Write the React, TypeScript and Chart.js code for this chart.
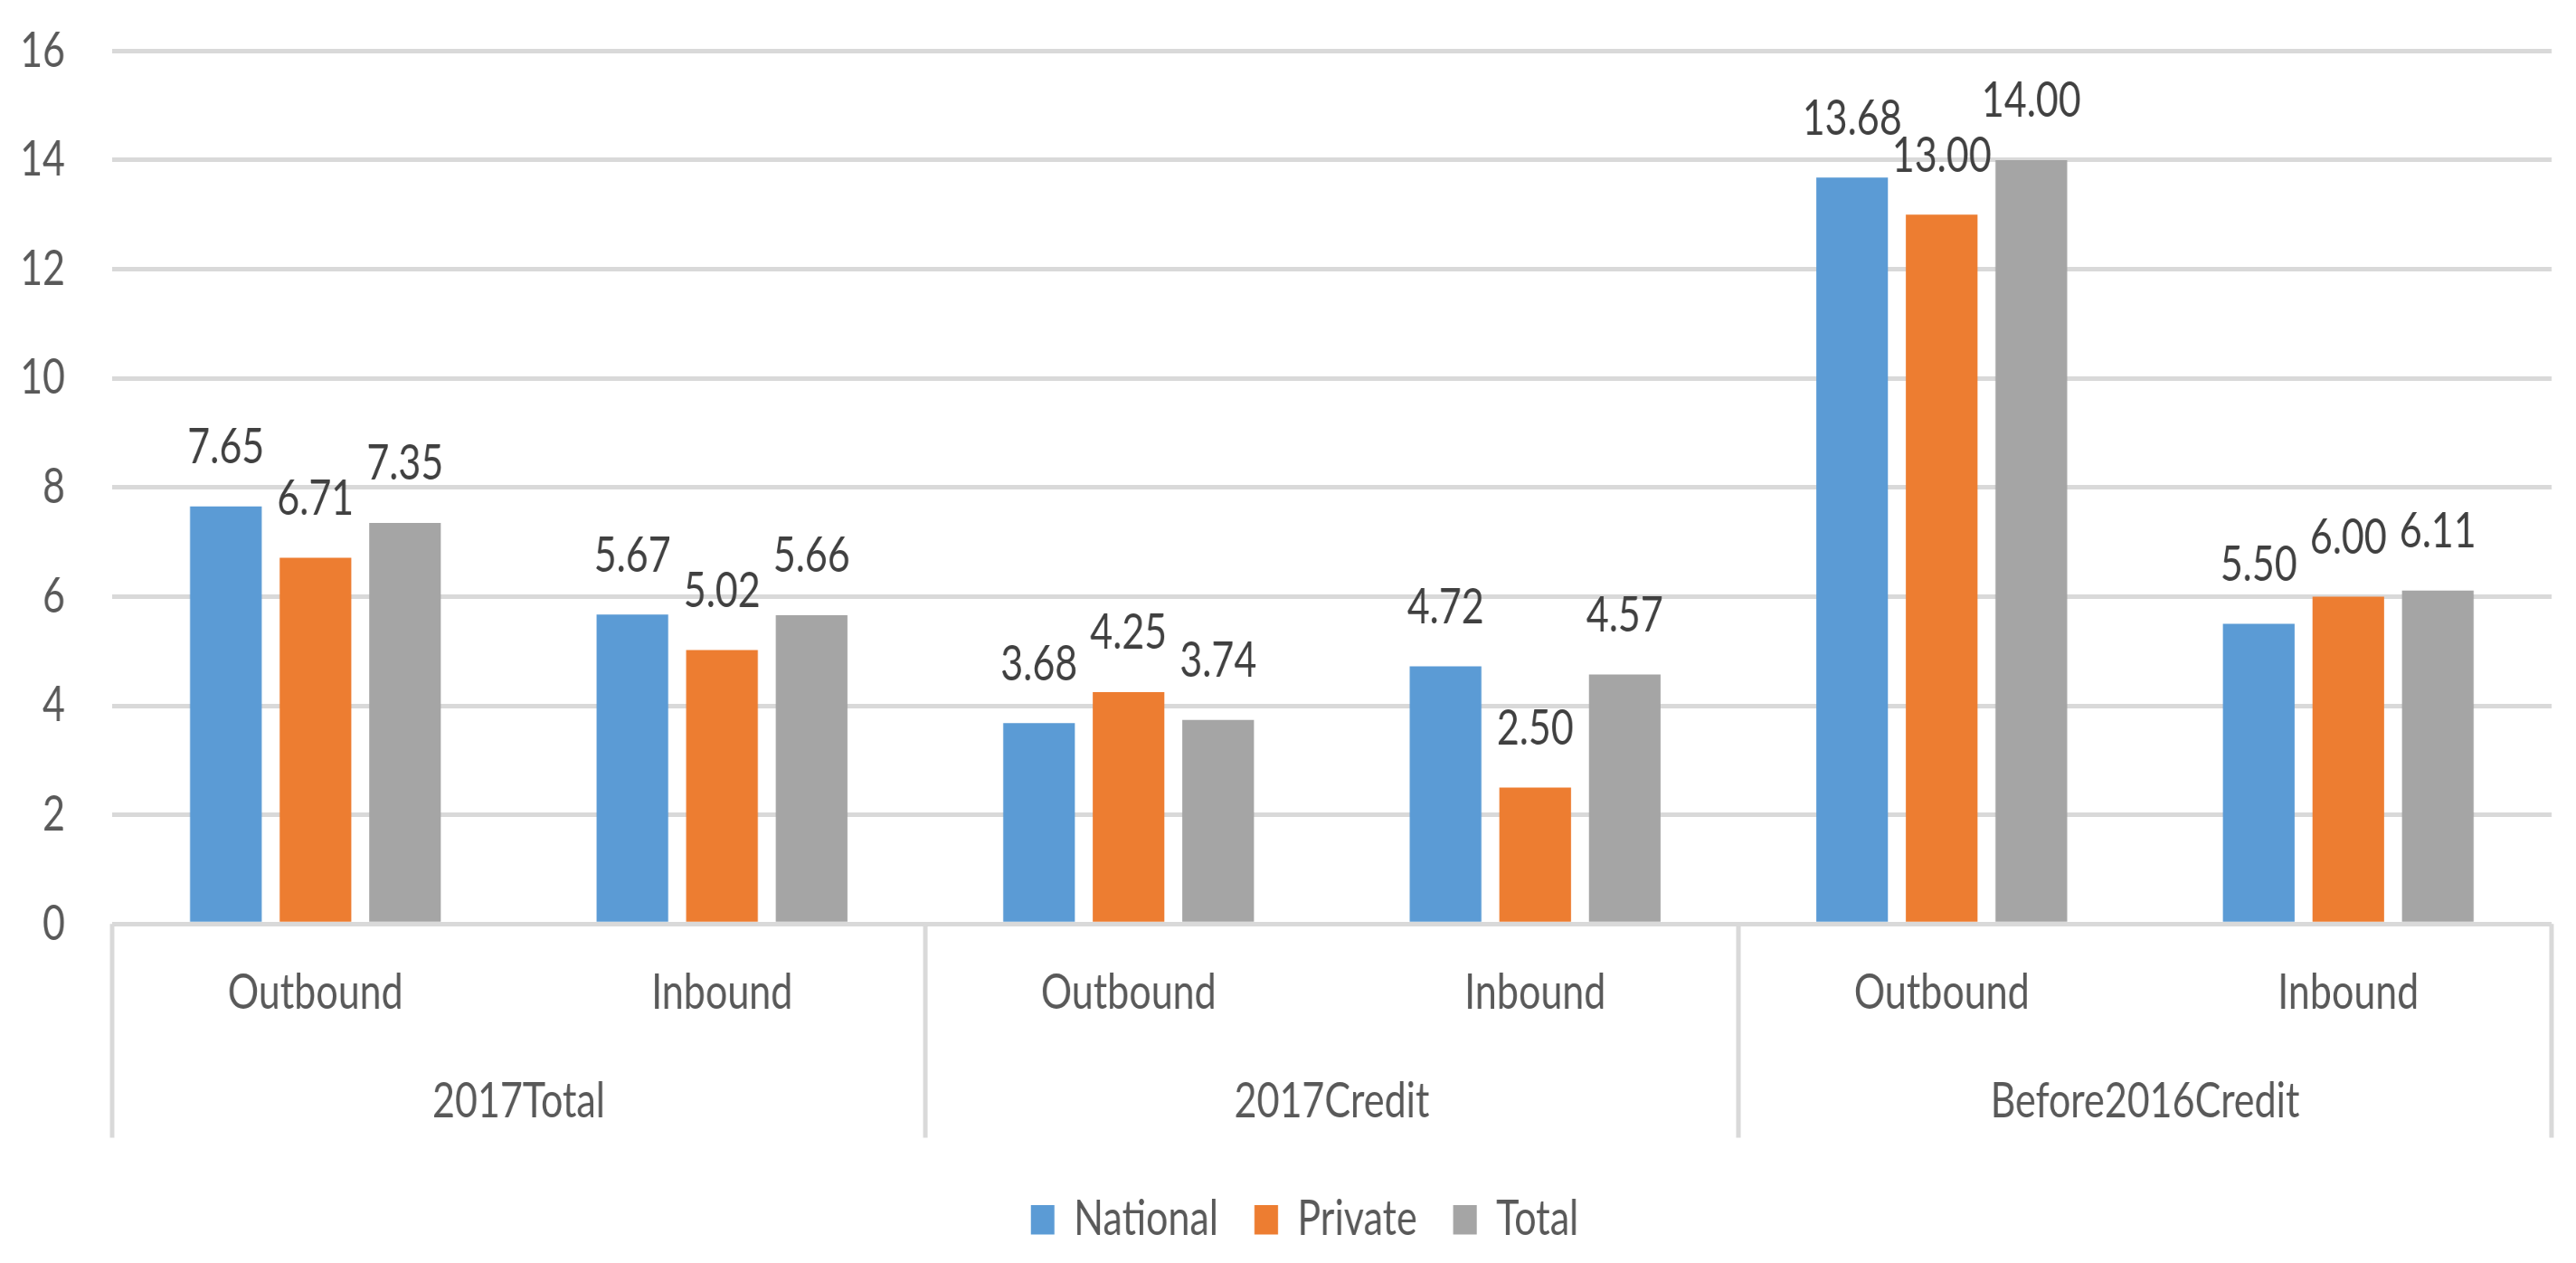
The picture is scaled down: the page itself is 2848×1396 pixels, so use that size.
import React, { useEffect, useRef } from 'react';
import { Chart, registerables } from 'chart.js';

Chart.register(...registerables);

// ---- data ----
const subCategories = ['Outbound', 'Inbound', 'Outbound', 'Inbound', 'Outbound', 'Inbound'];
const groupLabels = ['2017Total', '2017Credit', 'Before2016Credit'];
const seriesNames = ['National', 'Private', 'Total'];
const nationalValues = [7.65, 5.67, 3.68, 4.72, 13.68, 5.5];
const privateValues = [6.71, 5.02, 4.25, 2.5, 13.0, 6.0];
const totalValues = [7.35, 5.66, 3.74, 4.57, 14.0, 6.11];
const seriesColors = ['#5B9BD5', '#ED7D31', '#A5A5A5'];
const yMin = 0;
const yMax = 16;
const yStep = 2;

// ---- layout (logical canvas is stretched vertically by CSS) ----
const PAGE_W = 2848;
const PAGE_H = 1396;
const STRETCH = 1.25;
const LOGICAL_H = Math.round(PAGE_H / STRETCH);
const FONT = "Lato, 'Open Sans', sans-serif";
const FONT_SIZE = 43;
const AXIS_TEXT = '#595959';
const LABEL_TEXT = '#404040';
const GRID = '#d9d9d9';
const LEGEND_SHIFT = 32;

const legendShiftPlugin = {
  id: 'legendShift',
  afterLayout(chart: any) {
    const lg = chart.legend;
    if (lg) {
      lg.left += LEGEND_SHIFT;
      lg.right += LEGEND_SHIFT;
    }
  },
};

const axisDecorPlugin = {
  id: 'axisDecor',
  afterDraw(chart: any) {
    const { ctx, chartArea } = chart;
    const xs = chart.scales.x;
    const n = subCategories.length;
    const px = (i: number) => xs.getPixelForValue(i);
    const boundary = (i: number) => {
      if (i <= 0) return chartArea.left;
      if (i >= n) return chartArea.right;
      return (px(i - 1) + px(i)) / 2;
    };
    const lineBottom = 1006;
    ctx.save();
    // separators
    ctx.strokeStyle = GRID;
    ctx.lineWidth = 5;
    const perGroup = n / groupLabels.length;
    for (let g = 0; g <= groupLabels.length; g++) {
      const x = boundary(g * perGroup);
      ctx.beginPath();
      ctx.moveTo(x, chartArea.bottom);
      ctx.lineTo(x, lineBottom);
      ctx.stroke();
    }
    // sub-category labels
    ctx.fillStyle = AXIS_TEXT;
    ctx.font = `${FONT_SIZE}px ${FONT}`;
    ctx.textAlign = 'center';
    ctx.textBaseline = 'middle';
    subCategories.forEach((lab, i) => {
      ctx.fillText(lab, px(i), 878);
    });
    // group labels
    groupLabels.forEach((lab, g) => {
      const x = (boundary(g * perGroup) + boundary((g + 1) * perGroup)) / 2;
      ctx.fillText(lab, x, 974);
    });
    // data labels
    ctx.fillStyle = LABEL_TEXT;
    chart.data.datasets.forEach((ds: any, di: number) => {
      const meta = chart.getDatasetMeta(di);
      meta.data.forEach((el: any, i: number) => {
        const v = ds.data[i];
        ctx.fillText(Number(v).toFixed(2), el.x, el.y - 52);
      });
    });
    ctx.restore();
  },
};

export default function App() {
  const ref = useRef<HTMLCanvasElement | null>(null);

  useEffect(() => {
    if (!ref.current) return;
    const chart = new Chart(ref.current, {
      type: 'bar',
      data: {
        labels: subCategories,
        datasets: [
          { label: seriesNames[0], data: nationalValues, backgroundColor: seriesColors[0] },
          { label: seriesNames[1], data: privateValues, backgroundColor: seriesColors[1] },
          { label: seriesNames[2], data: totalValues, backgroundColor: seriesColors[2] },
        ],
      },
      options: {
        animation: false,
        responsive: false,
        devicePixelRatio: STRETCH,
        categoryPercentage: 0.661,
        barPercentage: 0.8,
        layout: { padding: { left: 0, right: 27, top: 45, bottom: 7 } },
        plugins: {
          legend: {
            position: 'bottom',
            labels: {
              boxWidth: 26,
              boxHeight: 26,
              padding: 40,
              color: AXIS_TEXT,
              font: { family: FONT, size: FONT_SIZE },
            },
          },
          tooltip: { enabled: false },
          title: { display: false },
        },
        scales: {
          x: {
            ticks: { display: false },
            grid: { display: false },
            border: { display: false },
            afterFit: (s: any) => {
              s.height = 200;
            },
          },
          y: {
            min: yMin,
            max: yMax,
            ticks: {
              stepSize: yStep,
              padding: 52,
              color: AXIS_TEXT,
              font: { family: FONT, size: FONT_SIZE },
            },
            grid: { color: GRID, lineWidth: 4, drawTicks: false },
            border: { display: false },
            afterFit: (s: any) => {
              s.width = 124;
              s.paddingTop = 0;
              s.paddingBottom = 0;
            },
          },
        },
      } as any,
      plugins: [legendShiftPlugin, axisDecorPlugin],
    });
    return () => chart.destroy();
  }, []);

  return (
    <div style={{ position: 'absolute', left: 0, top: 0, width: PAGE_W, height: PAGE_H, background: '#fff' }}>
      <canvas
        ref={ref}
        width={PAGE_W}
        height={LOGICAL_H}
        style={{ display: 'block', width: `${PAGE_W}px`, height: `${PAGE_H}px` }}
      />
    </div>
  );
}
